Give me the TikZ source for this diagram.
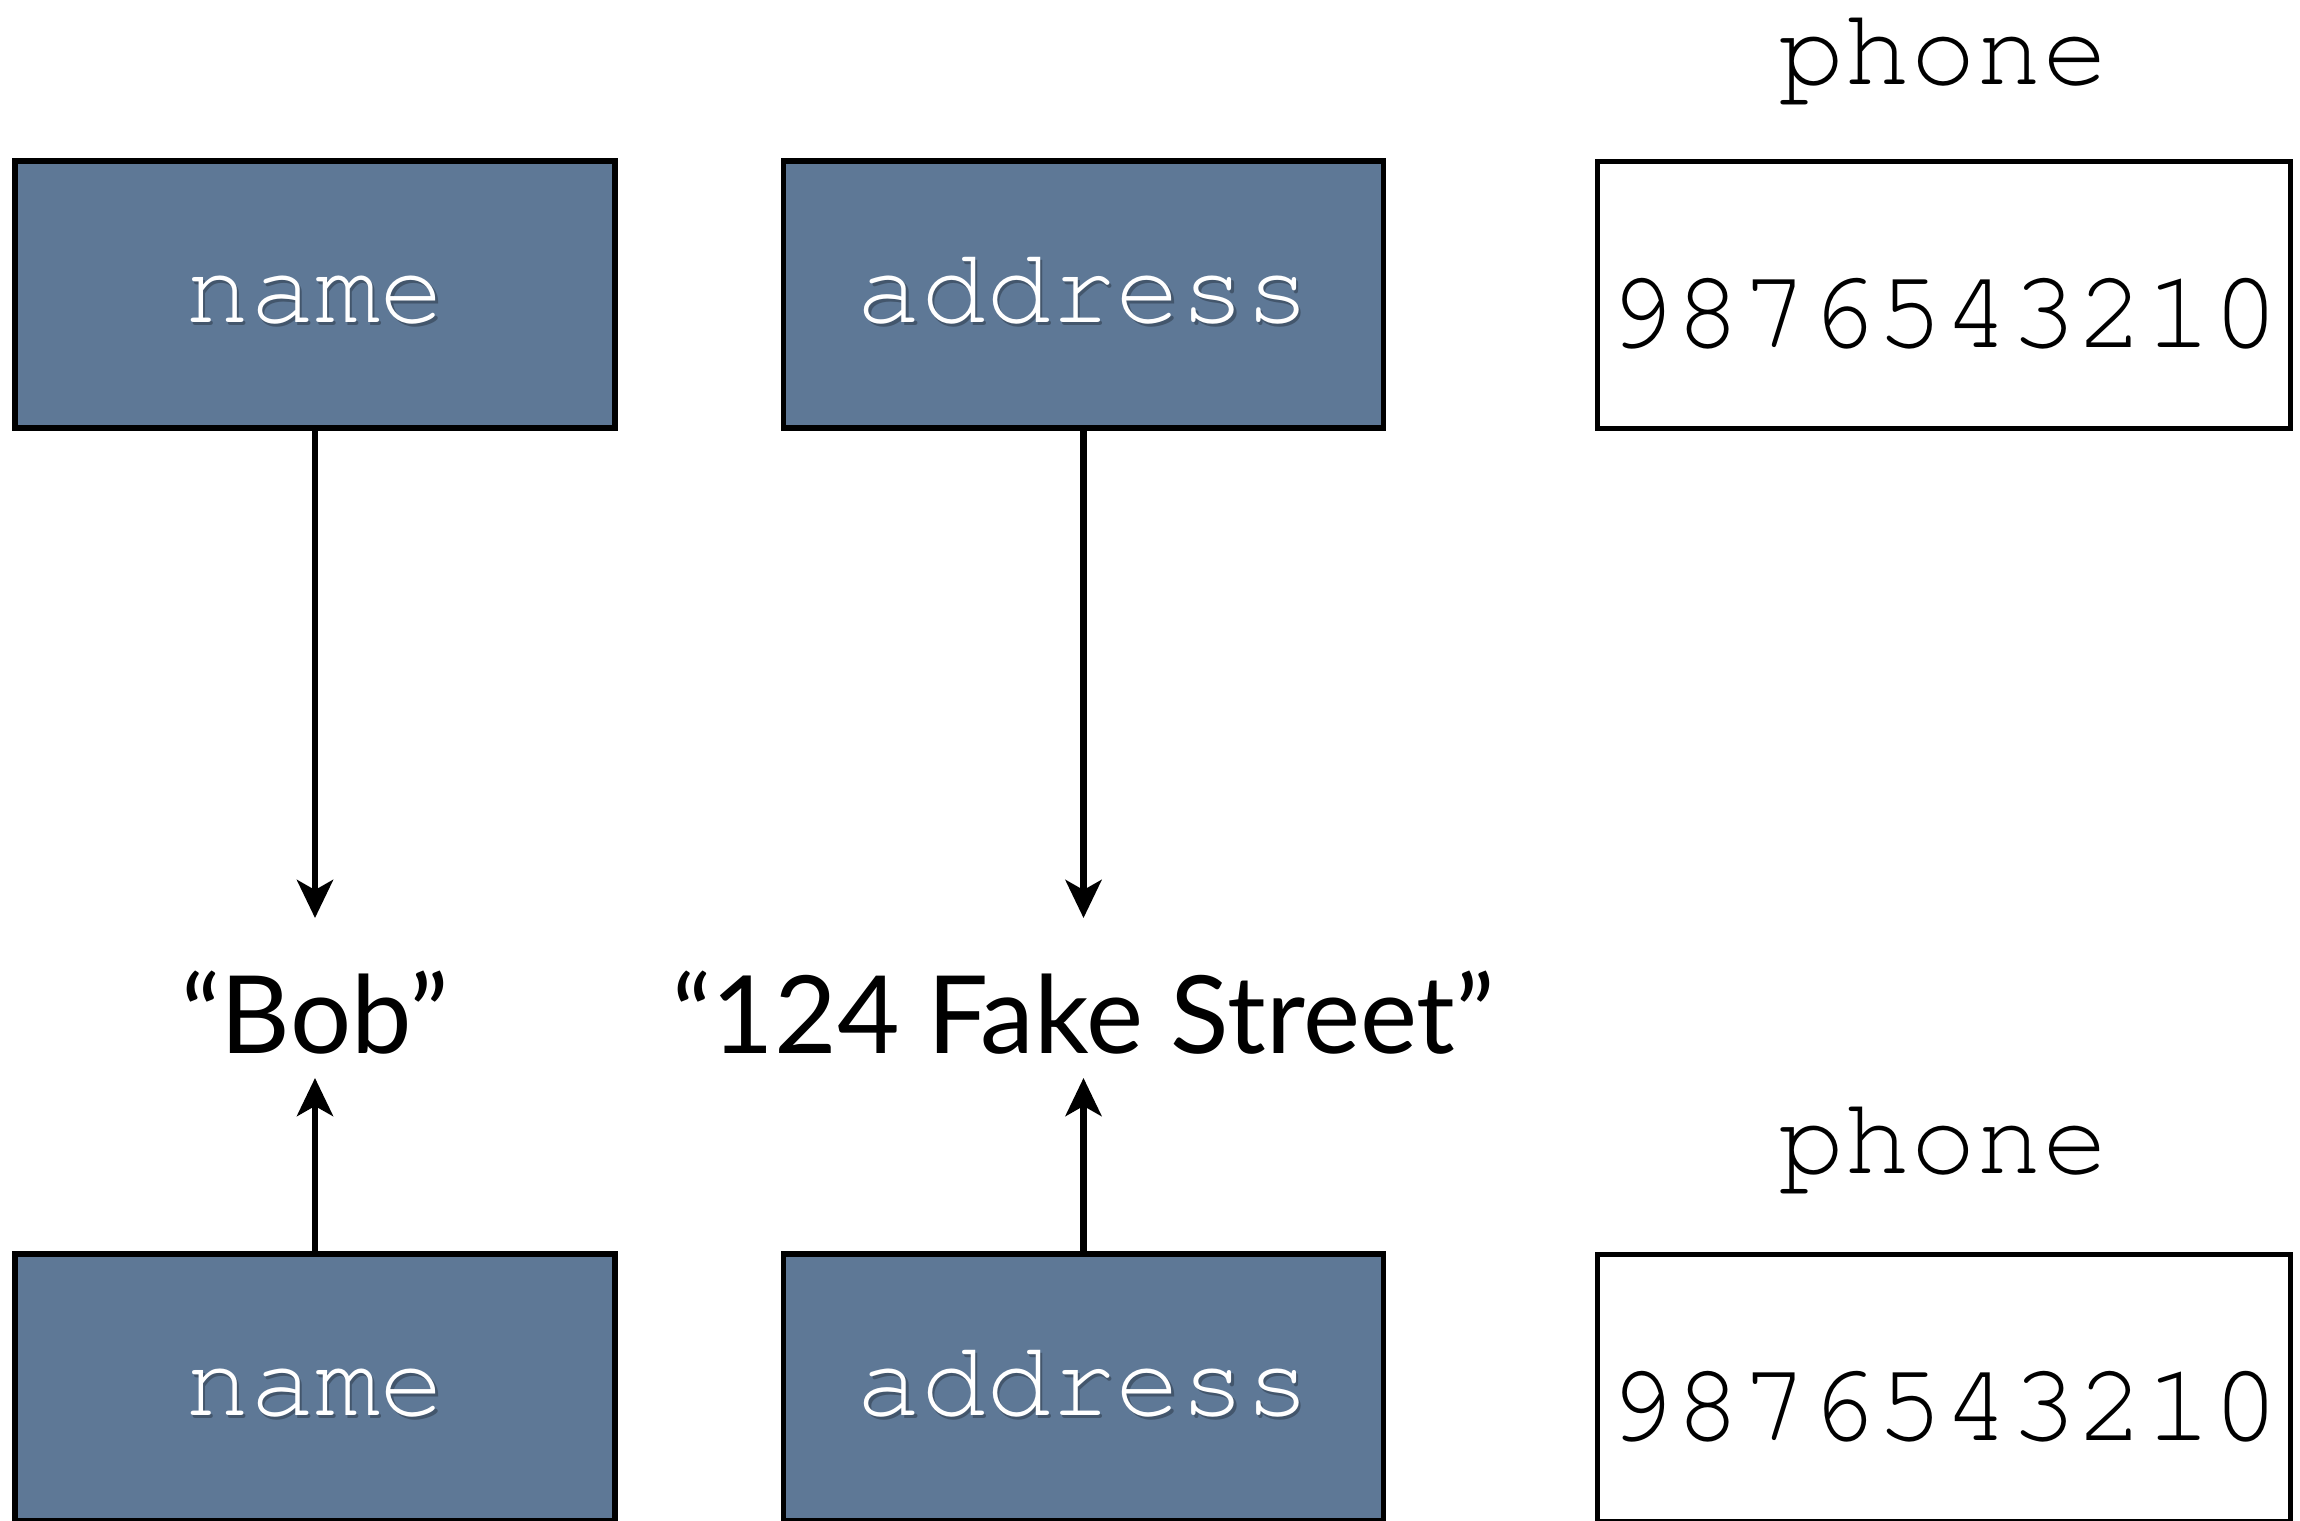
\documentclass[tikz,border=0pt]{standalone}
\usepackage{fontspec}
\setmainfont{Lato}
\setmonofont{TeX Gyre Cursor}
\usetikzlibrary{arrows.meta}
\definecolor{slate}{HTML}{5E7896}
\definecolor{slateshadow}{HTML}{43566C}
% white field label with a soft shadow under it
\newcommand\fieldtext[1]{\makebox[0pt][l]{\raisebox{-1.6pt}{\hspace{1.2pt}\textcolor{slateshadow}{#1}}}\textcolor{white}{#1}}
\begin{document}
\begin{tikzpicture}[x=0.5pt,y=-0.5pt,
  field/.style={rectangle, draw=black, line width=2.8pt, fill=slate,
    minimum width=300pt, minimum height=133.5pt, inner sep=0pt,
    font=\ttfamily\fontsize{54}{54}\selectfont, text height=27.5pt, text depth=0pt},
  valuebox/.style={rectangle, draw=black, line width=2.5pt, fill=white,
    minimum width=346.5pt, minimum height=133.5pt, inner sep=0pt,
    font=\ttfamily\fontsize{56}{56}\selectfont, text height=52.5pt, text depth=0pt},
  fieldname/.style={anchor=base, inner sep=0pt, text height=33pt, text depth=9pt,
    font=\ttfamily\fontsize{55}{55}\selectfont},
  strval/.style={anchor=base, inner sep=0pt, font=\fontsize{54}{54}\selectfont},
  ref/.style={line width=3.2pt, -{Stealth[length=19pt, width=18pt, inset=5pt]}}]
\useasboundingbox (0,0) rectangle (2300,1520);
\clip (0,0) rectangle (2300,1520);
\fill[white] (0,0) rectangle (2300,1520);

% upper object
\node[field] (name1) at (315,294.5) {\fieldtext{name}};
\node[field] (addr1) at (1083.5,294.5) {\fieldtext{address}};
\node[valuebox] (phone1) at (1943.5,294.5) {9876543210};
\node[fieldname] (plabel1) at (1943.5,84) {phone};

% shared string values
\node[strval] (bob) at (315,1053) {“Bob”};
\node[strval] (street) at (1083.5,1053) {“124 Fake Street”};

% lower object
\node[field] (name2) at (315,1387.5) {\fieldtext{name}};
\node[field] (addr2) at (1083.5,1387.5) {\fieldtext{address}};
\node[valuebox] (phone2) at (1943.5,1387.5) {9876543210};
\node[fieldname] (plabel2) at (1943.5,1173) {phone};

% references
\coordinate (bobtop) at (315,918);
\coordinate (bobbot) at (315,1078);
\coordinate (sttop) at (1083.5,918);
\coordinate (stbot) at (1083.5,1078);
\draw[ref] (name1.south) -- (bobtop);
\draw[ref] (addr1.south) -- (sttop);
\draw[ref] (name2.north) -- (bobbot);
\draw[ref] (addr2.north) -- (stbot);
\end{tikzpicture}
\end{document}
